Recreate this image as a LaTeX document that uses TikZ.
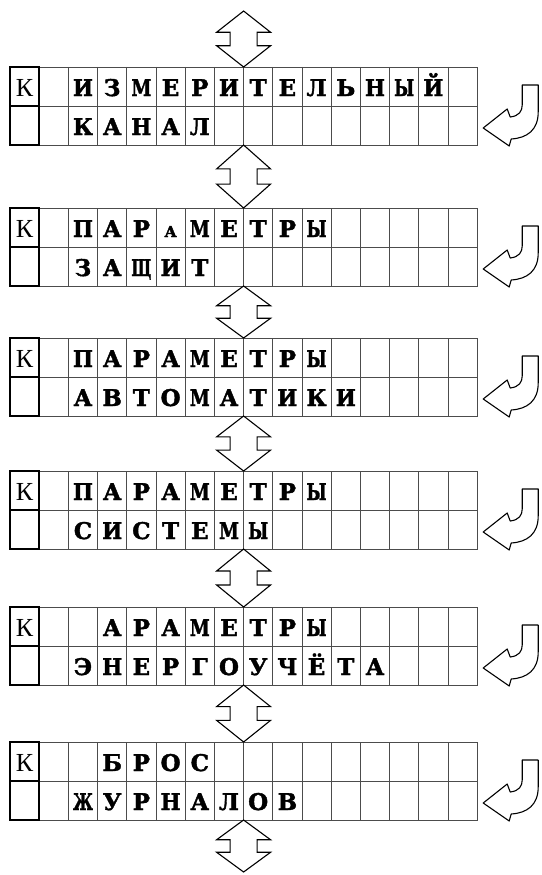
\documentclass[tikz,border=0pt]{standalone}
\usepackage{fontspec}
\usetikzlibrary{calc}
\newfontfamily\monob{DejaVu Serif}
\newfontfamily\serifk{Liberation Serif}
\newcommand\smA{{\fontsize{15}{15}\selectfont А}}
\newsavebox\chbox
\newcommand\fitch[1]{\sbox\chbox{#1}\ifdim\wd\chbox>20pt\resizebox{20pt}{\ht\chbox}{\usebox\chbox}\else\usebox\chbox\fi}
\newcommand\heavy[1]{\special{pdf:literal direct 2 Tr 0.4 w}\fitch{#1}\special{pdf:literal direct 0 Tr}}

\tikzset{
 x=1pt, y=-1pt,
 panel/.style={draw=none, minimum width=467.2pt, minimum height=78pt, inner sep=0pt, outer sep=0pt},
 gridl/.style={draw=black!70, line width=0.8pt},
 kbox/.style={draw=black, line width=2.2pt},
 letter/.style={font=\monob\bfseries\fontsize{23}{23}\selectfont, inner sep=0pt, anchor=base},
 kletter/.style={font=\serifk\fontsize{26}{26}\selectfont, inner sep=0pt, anchor=base},
 dblarrow/.style={draw=black, line width=1.1pt, line join=miter},
 retarrow/.style={draw=black, line width=1.1pt, line join=round},
}

\newcommand\panel[6]{%
 \node[panel, anchor=north west] (#1) at (10,#2) {};
 \draw[gridl] (#1.north west) rectangle (#1.south east);
 \draw[gridl] (#1.west) -- (#1.east);
 \foreach \c in {2,...,15}
   \draw[gridl] ($(#1.north west)+(\c*29.2,0)$) -- ($(#1.south west)+(\c*29.2,0)$);
 \draw[kbox] (#1.north west) rectangle ($(#1.south west)+(29.2,0)$);
 \draw[kbox] (#1.west) -- ($(#1.west)+(29.2,0)$);
 \node[kletter] (#1k) at ($(#1.north west)+(14.6,29)$) {К};
 \foreach \ch [count=\i from #3] in {#4}
   \node[letter] (#1a\i) at ($(#1.north west)+(\i*29.2+14.6,29)$) {\heavy{\ch}};
 \foreach \ch [count=\i from #5] in {#6}
   \node[letter] (#1b\i) at ($(#1.north west)+(\i*29.2+14.6,68)$) {\heavy{\ch}};
 \draw[retarrow, shift={(#1.north east)}]
   (45,18) -- (61,18) -- (61,45) .. controls (61,63) and (50,71) .. (34,72)
   -- (32,79) -- (6,61) -- (30,42) -- (33,50)
   .. controls (42,49) and (45,44) .. (45,38) -- cycle;
}

\newcommand\dblarr[2]{%
 \draw[dblarrow] (#1) -- ($(#1)!0.38!(#2)+(27,0)$) -- ($(#1)!0.38!(#2)+(13.5,0)$)
   -- ($(#1)!0.62!(#2)+(13.5,0)$) -- ($(#1)!0.62!(#2)+(27,0)$) -- (#2)
   -- ($(#1)!0.62!(#2)+(-27,0)$) -- ($(#1)!0.62!(#2)+(-13.5,0)$)
   -- ($(#1)!0.38!(#2)+(-13.5,0)$) -- ($(#1)!0.38!(#2)+(-27,0)$) -- cycle;
}

\begin{document}
\begin{tikzpicture}
\useasboundingbox (0,0) rectangle (541,875);
\panel{p1}{67}{2}{И,З,М,Е,Р,И,Т,Е,Л,Ь,Н,Ы,Й}{2}{К,А,Н,А,Л}
\panel{p2}{208}{2}{П,А,Р,\smA,М,Е,Т,Р,Ы}{2}{З,А,Щ,И,Т}
\panel{p3}{338}{2}{П,А,Р,А,М,Е,Т,Р,Ы}{2}{А,В,Т,О,М,А,Т,И,К,И}
\panel{p4}{471}{2}{П,А,Р,А,М,Е,Т,Р,Ы}{2}{С,И,С,Т,Е,М,Ы}
\panel{p5}{607}{3}{А,Р,А,М,Е,Т,Р,Ы}{2}{Э,Н,Е,Р,Г,О,У,Ч,Ё,Т,А}
\panel{p6}{742}{3}{Б,Р,О,С}{2}{Ж,У,Р,Н,А,Л,О,В}
\coordinate (t0) at (243.6,11);
\coordinate (b0) at (243.6,872);
\dblarr{t0}{p1.north}
\dblarr{p1.south}{p2.north}
\dblarr{p2.south}{p3.north}
\dblarr{p3.south}{p4.north}
\dblarr{p4.south}{p5.north}
\dblarr{p5.south}{p6.north}
\dblarr{p6.south}{b0}
\end{tikzpicture}
\end{document}
